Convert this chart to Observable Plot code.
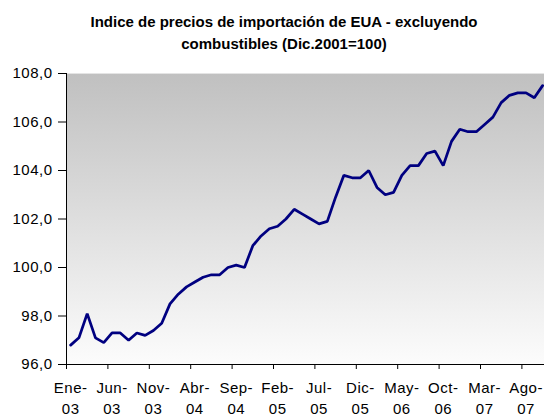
<!DOCTYPE html>
<html><head><meta charset="utf-8">
<script src="https://cdn.jsdelivr.net/npm/d3@7"></script>
<script src="https://cdn.jsdelivr.net/npm/@observablehq/plot@0.6"></script>
<style>
html,body{margin:0;padding:0;background:#fff;}
body{font-family:"Liberation Sans",Arial,sans-serif;width:544px;height:417px;position:relative;overflow:hidden}
#title{position:absolute;left:0;top:11px;width:568px;text-align:center;font-weight:bold;font-size:15px;line-height:22px;color:#000}
#chart{position:absolute;left:0;top:0}
#chart svg text{letter-spacing:0.5px}
</style></head><body>
<div id="chart"></div>
<div id="title">Indice de precios de importación de EUA - excluyendo<br>combustibles (Dic.2001=100)</div>
<script>
// Monthly index, Jan 2003 .. Oct 2007
const monthNames = ["Ene","Feb","Mar","Abr","May","Jun","Jul","Ago","Sep","Oct","Nov","Dic"];
const years = ["03","04","05","06","07"];
const values = [
  96.8, 97.1, 98.1, 97.1, 96.9, 97.3, 97.3, 97.0, 97.3, 97.2, 97.4, 97.7,
  98.5, 98.9, 99.2, 99.4, 99.6, 99.7, 99.7, 100.0, 100.1, 100.0, 100.9, 101.3,
  101.6, 101.7, 102.0, 102.4, 102.2, 102.0, 101.8, 101.9, 102.9, 103.8, 103.7, 103.7,
  104.0, 103.3, 103.0, 103.1, 103.8, 104.2, 104.2, 104.7, 104.8, 104.2, 105.2, 105.7,
  105.6, 105.6, 105.9, 106.2, 106.8, 107.1, 107.2, 107.2, 107.0, 107.5
];
const yTicks = [96, 98, 100, 102, 104, 106, 108];
const labelEvery = 5;

const categories = values.map((_, i) => monthNames[i % 12] + "-" + years[Math.floor(i / 12)]);
const data = values.map((v, i) => ({i, v, cat: categories[i]}));
const labelIdx = categories.map((_, i) => i).filter(i => i % labelEvery === 0);
const boundaries = categories.map((_, i) => i - 0.5).filter((_, i) => i % labelEvery === 0);

const defs = () => {
  const d = d3.create("svg:defs");
  const g = d.append("linearGradient").attr("id", "bgGrad").attr("x1", 0).attr("y1", 0).attr("x2", 0).attr("y2", 1);
  g.append("stop").attr("offset", "0%").attr("stop-color", "#c0c0c0");
  g.append("stop").attr("offset", "100%").attr("stop-color", "#fcfcfc");
  return d.node();
};

const fmt = v => d3.format(".1f")(v).replace(".", ",");

const chart = Plot.plot({
  width: 544,
  height: 417,
  marginTop: 73,
  marginBottom: 53,
  marginLeft: 66,
  marginRight: 0,
  style: {fontFamily: "'Liberation Sans', Arial, sans-serif", color: "#000", background: "transparent", overflow: "hidden"},
  x: {type: "linear", domain: [-0.5, values.length - 0.5], range: [66, 66 + values.length * 8.28]},
  y: {domain: [96, 108]},
  marks: [
    defs,
    Plot.frame({fill: "url(#bgGrad)", stroke: null}),
    Plot.ruleY([108], {stroke: "#e4e4e4"}),
    Plot.axisY(yTicks, {label: null, tickSize: 8, tickPadding: 6, tickFormat: fmt, fontSize: 15, stroke: "#000"}),
    Plot.ruleX([-0.5], {stroke: "#000"}),
    Plot.axisX(boundaries, {label: null, tickSize: 5, tickFormat: () => "", stroke: "#000"}),
    Plot.axisX(labelIdx, {label: null, tickSize: 0, tickPadding: 14, fontSize: 15, lineHeight: 1.4,
      tickFormat: i => categories[i].replace("-", "-\n")}),
    Plot.ruleY([96], {stroke: "#000"}),
    Plot.line(data, {x: "i", y: "v", stroke: "#000080", strokeWidth: 2.75, strokeLinejoin: "miter"})
  ]
});
document.getElementById("chart").appendChild(chart);
</script>
</body></html>
